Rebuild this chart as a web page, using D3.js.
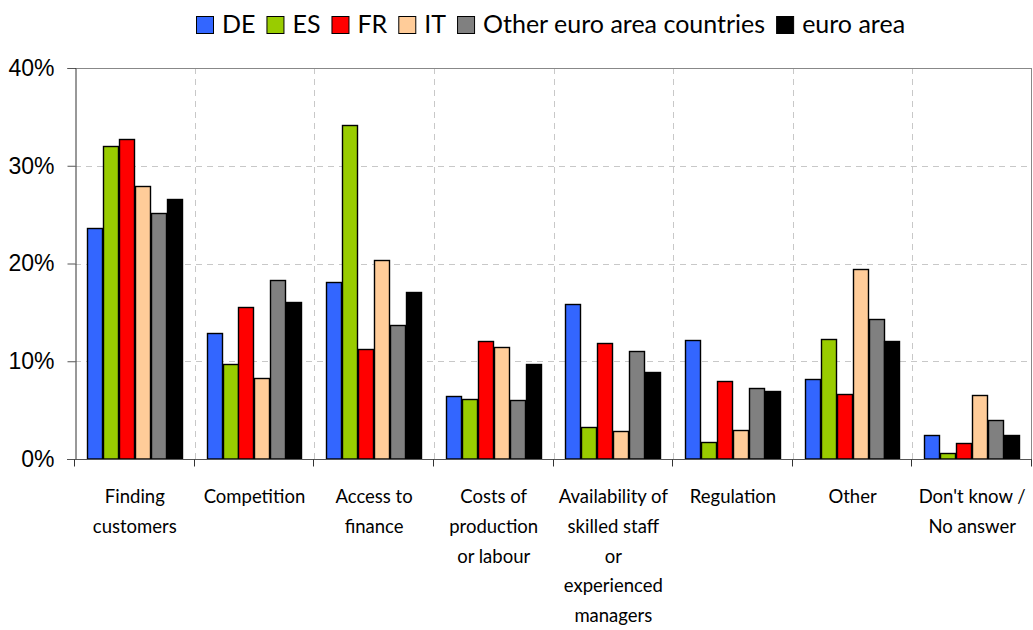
<!DOCTYPE html>
<html><head><meta charset="utf-8">
<script src="https://cdn.jsdelivr.net/npm/d3@7"></script>
<style>body{margin:0;background:#fff;} svg{display:block;font-family:Lato,"Open Sans",sans-serif;}</style>
</head><body>
<svg id="c" width="1033" height="630"></svg>
<script>
const categories = [
  ["Finding","customers"],
  ["Competition"],
  ["Access to","finance"],
  ["Costs of","production","or labour"],
  ["Availability of","skilled staff","or","experienced","managers"],
  ["Regulation"],
  ["Other"],
  ["Don't know /","No answer"]
];
const seriesNames = ["DE","ES","FR","IT","Other euro area countries","euro area"];
const seriesColors = ["#3366FF","#99CC00","#FF0000","#FFCC99","#808080","#000000"];
const DE    = [23.6,12.9,18.1, 6.4,15.9,12.2, 8.2,2.5];
const ES    = [32.0, 9.7,34.2, 6.1, 3.3, 1.7,12.3,0.6];
const FR    = [32.7,15.6,11.3,12.1,11.9, 8.0, 6.6,1.6];
const IT    = [27.9, 8.3,20.4,11.5, 2.9, 3.0,19.4,6.5];
const OTHER = [25.2,18.3,13.7, 6.0,11.0, 7.3,14.3,4.0];
const EA    = [26.6,16.1,17.1, 9.7, 8.9, 7.0,12.1,2.5];
const yTicks = [0,10,20,30,40];

const series = [DE,ES,FR,IT,OTHER,EA];
const svg = d3.select("#c");
const L=75, R=1032, T=68, B=459;
const x = d3.scaleBand().domain(d3.range(categories.length)).range([L,R]).paddingInner(0).paddingOuter(0);
const bw = x.bandwidth();
const inner = d3.scaleBand().domain(d3.range(series.length)).range([bw*0.1, bw*0.9]).padding(0);
const y = d3.scaleLinear().domain([0,40]).range([B,T]);

// grid
const g = svg.append("g");
g.selectAll(".hg").data(yTicks.filter(t=>t>0&&t<40)).join("line")
  .attr("x1",L).attr("x2",R).attr("y1",d=>Math.round(y(d))+0.5).attr("y2",d=>Math.round(y(d))+0.5)
  .attr("stroke","#c8c8c8").attr("stroke-dasharray","6,5");
g.selectAll(".vg").data(d3.range(1,categories.length)).join("line")
  .attr("x1",d=>Math.round(x(d))+0.5).attr("x2",d=>Math.round(x(d))+0.5).attr("y1",T).attr("y2",B)
  .attr("stroke","#c8c8c8").attr("stroke-dasharray","6,5");
// border top/right
g.append("line").attr("x1",L).attr("x2",R).attr("y1",T+0.5).attr("y2",T+0.5).attr("stroke","#888");
g.append("line").attr("x1",R-0.5).attr("x2",R-0.5).attr("y1",T).attr("y2",B).attr("stroke","#888");

// bars
series.forEach((s,si)=>{
  svg.append("g").selectAll("rect").data(s).join("rect")
    .attr("x",(d,i)=>Math.round(x(i)+inner(si))+0.5)
    .attr("width",Math.round(inner.bandwidth())-1)
    .attr("y",d=>Math.round(y(d))+0.5)
    .attr("height",d=>Math.max(0,Math.round(B-y(d))-0.5))
    .attr("fill",seriesColors[si]).attr("stroke","#000").attr("stroke-width",1.4);
});

// y axis
const ya = svg.append("g").attr("transform",`translate(${L+0.5},0)`)
  .call(d3.axisLeft(y).tickValues(yTicks).tickFormat(d=>d+"%").tickSize(8).tickPadding(13));
ya.select(".domain").attr("stroke","#333");
ya.selectAll(".tick line").attr("stroke","#555");
ya.selectAll("text").attr("font-size",23).attr("fill","#000");

// x axis
const xa = svg.append("g").attr("transform",`translate(0,${B+0.5})`);
xa.append("line").attr("x1",L-8).attr("x2",R).attr("stroke","#555");
xa.selectAll(".t").data(d3.range(categories.length+1)).join("line")
  .attr("x1",d=>Math.round(d<categories.length?x(d):R)-0.5).attr("x2",d=>Math.round(d<categories.length?x(d):R)-0.5)
  .attr("y1",0).attr("y2",7).attr("stroke","#333");
const lab = svg.append("g");
categories.forEach((lines,i)=>{
  const t = lab.append("text").attr("text-anchor","middle").attr("font-size",18.5).attr("fill","#000");
  lines.forEach((ln,j)=>{
    t.append("tspan").attr("x",x(i)+bw/2).attr("y",503+j*29.8).text(ln);
  });
});

// legend
const leg = svg.append("g");
let lx = 196;
seriesNames.forEach((n,i)=>{
  leg.append("rect").attr("x",lx+0.5).attr("y",16.5).attr("width",17).attr("height",17)
    .attr("fill",seriesColors[i]).attr("stroke","#000").attr("stroke-width",1);
  const t = leg.append("text").attr("x",lx+26).attr("y",33).attr("font-size",25).attr("fill","#000").text(n);
  lx += 26 + t.node().getComputedTextLength() + 11;
});
</script>
</body></html>
